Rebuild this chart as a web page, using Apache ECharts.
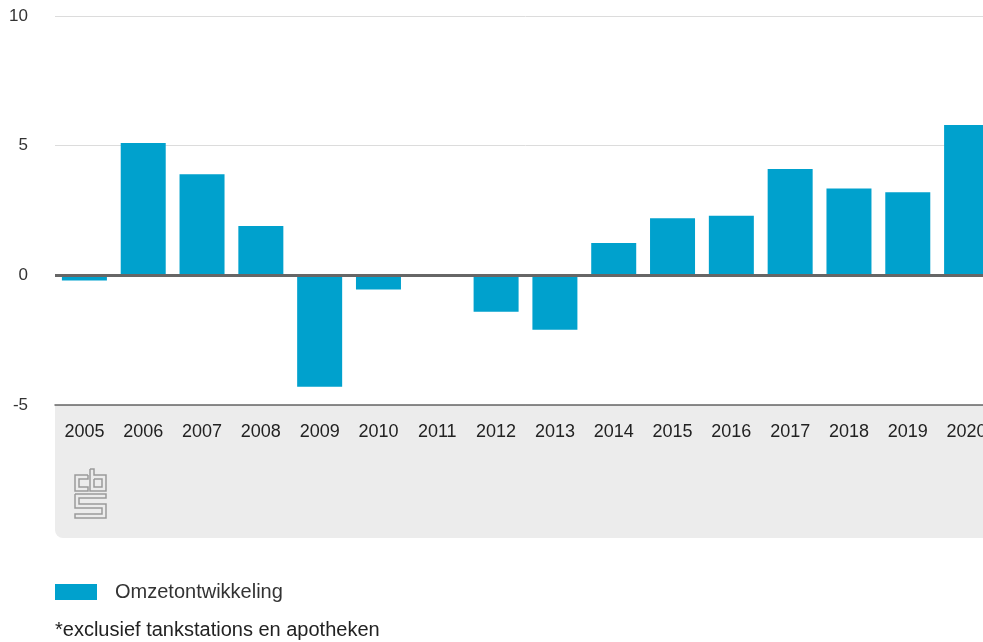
<!DOCTYPE html>
<html>
<head>
<meta charset="utf-8">
<script src="https://cdn.jsdelivr.net/npm/echarts@6/dist/echarts.min.js"></script>
<style>
  html, body { margin: 0; padding: 0; overflow: hidden; background: #fff; }
  #chart { width: 1000px; height: 642px; }
</style>
</head>
<body>
<div id="chart"></div>
<script>
var years = ['2005', '2006', '2007', '2008', '2009', '2010', '2011', '2012',
             '2013', '2014', '2015', '2016', '2017', '2018', '2019', '2020'];
var omzet = [-0.2, 5.1, 3.9, 1.9, -4.3, -0.55, 0, -1.4,
             -2.1, 1.25, 2.2, 2.3, 4.1, 3.35, 3.2, 5.8];
var yTicks = { min: -5, max: 10, step: 5 };

var myChart = echarts.init(document.getElementById('chart'));
var font = '"Liberation Sans", Arial, sans-serif';

// cbs logo, drawn as outlines
var logo = [
  [[88,475],[75,475],[75,491],[88,491],[88,487],[79,487],[79,479],[88,479],[88,475]],
  [[90,469],[94,469],[94,475],[106,475],[106,491],[90,491],[90,469]],
  [[94,479],[102,479],[102,487],[94,487],[94,479]],
  [[75,494],[106,494],[106,498],[79,498],[79,504],[106,504],[106,518],[75,518],[75,514],[102,514],[102,508],[75,508],[75,494]]
];

var option = {
  animation: false,
  textStyle: { fontFamily: font },
  grid: { left: 55, top: 16, width: 941, bottom: 237 },
  legend: {
    left: 55, top: 582, padding: 0,
    icon: 'rect', itemWidth: 42, itemHeight: 16,
    textStyle: { fontSize: 20, color: '#333', padding: [0, 0, 0, 13] },
    data: ['Omzetontwikkeling']
  },
  xAxis: {
    type: 'category',
    data: years,
    axisLine: { onZero: false, lineStyle: { color: '#666', width: 1.5 } },
    axisTick: { show: false },
    axisLabel: { fontSize: 18, color: '#222', margin: 18 }
  },
  yAxis: {
    type: 'value',
    min: yTicks.min, max: yTicks.max, interval: yTicks.step,
    axisLine: { show: false },
    axisTick: { show: false },
    axisLabel: { fontSize: 17, color: '#333', margin: 27 },
    splitLine: { lineStyle: { color: '#dcdcdc', width: 1 } }
  },
  series: [{
    name: 'Omzetontwikkeling',
    type: 'bar',
    data: omzet,
    barWidth: 45,
    itemStyle: { color: '#00a1cd' },
    markLine: {
      silent: true,
      symbol: 'none',
      label: { show: false },
      lineStyle: { color: '#666', width: 3, type: 'solid' },
      data: [{ yAxis: 0 }]
    }
  }],
  graphic: [
    {
      type: 'rect', z: -10,
      shape: { x: 55, y: 406, width: 960, height: 132, r: [0, 0, 0, 8] },
      style: { fill: '#ececec' }
    },
    {
      type: 'group', z: -5,
      children: logo.map(function (pts) {
        return { type: 'polyline', shape: { points: pts },
                 style: { stroke: '#9a9a9a', lineWidth: 1.5, fill: null } };
      })
    },
    {
      type: 'text', left: 55, top: 620,
      style: { text: '*exclusief tankstations en apotheken',
               fill: '#222', font: '20px "Liberation Sans", Arial, sans-serif' }
    }
  ]
};

myChart.setOption(option);
</script>
</body>
</html>
